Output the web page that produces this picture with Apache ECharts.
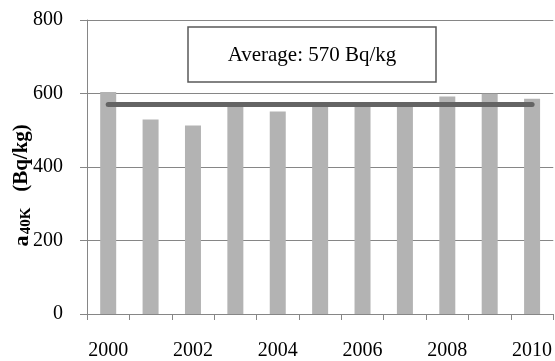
<!DOCTYPE html>
<html>
<head>
<meta charset="utf-8">
<script src="https://cdn.jsdelivr.net/npm/echarts@6/dist/echarts.min.js"></script>
<style>html,body{margin:0;padding:0;background:#fff}#c{width:555px;height:361px}</style>
</head>
<body>
<div id="c"></div>
<script>
const years = ['2000','2001','2002','2003','2004','2005','2006','2007','2008','2009','2010'];
const activity = [604, 529, 513, 565, 551, 567, 566, 563, 592, 599, 586];
const average = 570;
const yTicks = [0, 200, 400, 600, 800];

const chart = echarts.init(document.getElementById('c'), null, {renderer: 'canvas'});
const font = '"Liberation Serif", "Times New Roman", serif';
const rot = Math.PI / 2;
chart.setOption({
  animation: false,
  backgroundColor: '#fff',
  grid: {left: 87, right: 0, top: 20, bottom: 46, containLabel: false},
  xAxis: {
    type: 'category',
    data: years,
    boundaryGap: true,
    axisLine: {lineStyle: {color: '#868686', width: 1}},
    axisTick: {show: true, interval: 0, length: 6, lineStyle: {color: '#868686'}},
    axisLabel: {interval: 1, margin: 27, color: '#000', fontFamily: font, fontSize: 20},
    splitLine: {show: false}
  },
  yAxis: {
    type: 'value',
    min: yTicks[0],
    max: yTicks[yTicks.length - 1],
    interval: 200,
    axisLine: {show: true, lineStyle: {color: '#868686', width: 1}},
    axisTick: {show: true, length: 7, lineStyle: {color: '#868686'}},
    axisLabel: {margin: 24, color: '#000', fontFamily: font, fontSize: 20},
    splitLine: {show: true, lineStyle: {color: '#868686', width: 1}}
  },
  series: [{
    type: 'bar',
    data: activity,
    barWidth: 16,
    itemStyle: {color: '#b3b3b3'},
    markLine: {
      silent: true,
      symbol: ['none', 'none'],
      label: {show: false},
      lineStyle: {color: '#646464', width: 5, type: 'solid', cap: 'round'},
      data: [[{coord: [years[0], average]}, {coord: [years[years.length - 1], average]}]]
    }
  }],
  graphic: [
    {
      type: 'rect',
      shape: {x: 188, y: 27, width: 248, height: 55},
      style: {fill: '#fff', stroke: '#595959', lineWidth: 1.5},
      z: 10
    },
    {
      type: 'text',
      x: 312, y: 55,
      style: {text: 'Average: ' + average + ' Bq/kg', font: '21px ' + font, fill: '#000', align: 'center', verticalAlign: 'middle'},
      z: 11
    },
    {
      type: 'text', x: 22, y: 158, rotation: rot,
      style: {text: '(Bq/kg)', font: 'bold 21px ' + font, fill: '#000', align: 'center', verticalAlign: 'middle'},
      z: 11
    },
    {
      type: 'text', x: 22, y: 241, rotation: rot,
      style: {text: 'a', font: 'bold 22px ' + font, fill: '#000', align: 'center', verticalAlign: 'middle'},
      z: 11
    },
    {
      type: 'text', x: 26, y: 221, rotation: rot,
      style: {text: '40K', font: 'bold 15px ' + font, fill: '#000', align: 'center', verticalAlign: 'middle'},
      z: 11
    }
  ]
});
</script>
</body>
</html>
